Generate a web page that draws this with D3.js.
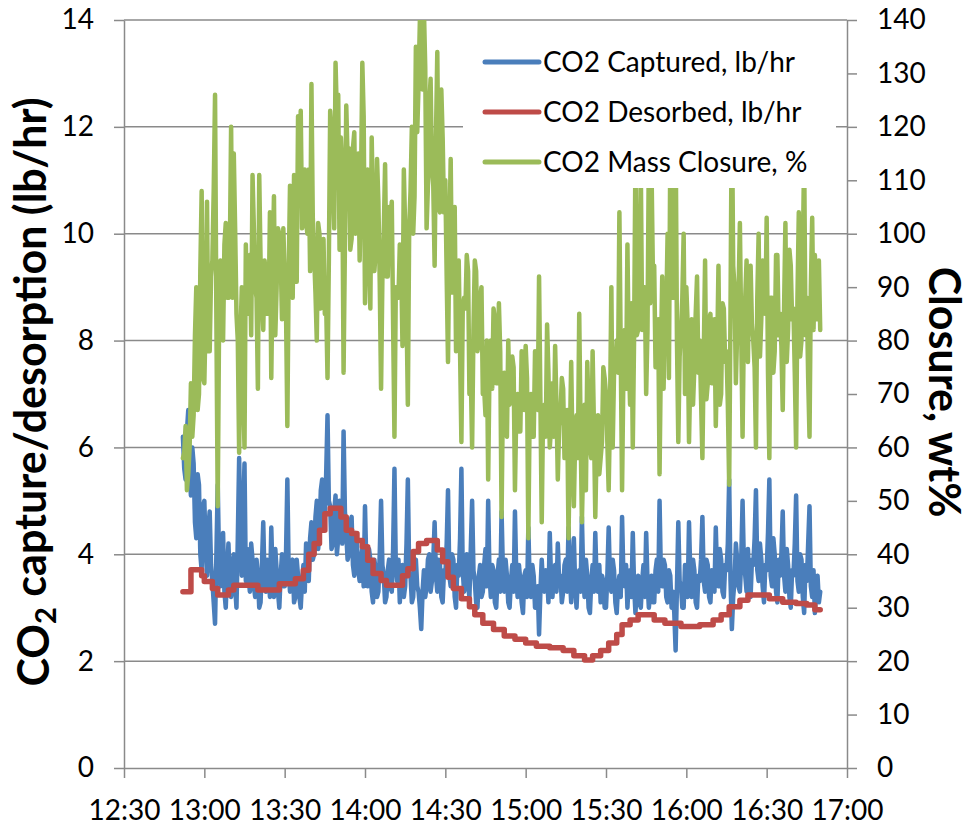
<!DOCTYPE html>
<html>
<head>
<meta charset="utf-8">
<script src="https://cdn.jsdelivr.net/npm/d3@7"></script>
<style>
  body { margin: 0; background: #fff; }
  svg { font-family: Lato, "Open Sans", sans-serif; display: block; }
</style>
</head>
<body>
<svg id="chart"></svg>
<script>
// series sampled every 30 seconds, starting at this time
const startTime = "12:52";
const stepSeconds = 30;

// CO2 captured, lb/hr (left axis)
const captured = [
  6.2, 5.6, 5.4, 6.3, 6.7, 5.5, 5.1, 6.0, 5.7, 4.6, 4.3, 5.5, 5.3, 4.0, 3.7, 4.9,
  5.0, 4.1, 3.6, 4.5, 4.8, 3.8, 3.5, 3.1, 2.7, 4.0, 5.3, 3.9, 3.4, 3.9, 4.4, 3.3, 3.0, 3.7, 4.2, 3.5,
  3.2, 3.8, 4.0, 3.4, 3.0, 4.3, 5.8, 4.2, 3.6, 4.8, 5.7, 3.5, 4.1, 3.6, 3.3, 4.2, 3.9, 3.4, 3.2, 3.9,
  3.6, 3.0, 3.1, 3.8, 4.6, 3.5, 3.3, 3.9, 3.8, 3.2, 4.5, 3.6, 3.2, 4.1, 3.7, 3.3, 3.0, 3.6, 4.0, 3.4,
  3.4, 4.0, 5.4, 3.7, 3.3, 3.6, 3.9, 3.1, 3.2, 3.9, 3.6, 3.2, 3.0, 3.5, 3.8, 3.3, 4.2, 3.7, 3.5, 4.3,
  4.6, 3.9, 4.0, 4.7, 5.0, 4.1, 4.4, 5.2, 5.4, 4.5, 4.7, 5.5, 6.6, 5.0, 4.9, 4.1, 4.2, 4.8, 5.1, 4.0,
  4.3, 5.0, 4.9, 4.2, 6.3, 4.8, 4.4, 3.9, 4.0, 4.6, 4.7, 3.8, 3.6, 4.4, 4.2, 3.7, 3.5, 3.9, 4.1, 3.4,
  4.9, 3.8, 3.4, 4.1, 3.9, 3.3, 3.1, 3.9, 3.7, 3.2, 3.3, 4.0, 5.0, 3.8, 3.6, 3.1, 3.2, 3.7, 3.9, 3.4,
  3.3, 4.1, 5.6, 3.8, 3.5, 3.9, 3.1, 3.6, 3.8, 3.2, 3.4, 4.2, 5.4, 3.7, 3.6, 3.1, 3.2, 3.8, 3.9, 3.4,
  3.3, 3.0, 2.6, 3.3, 3.7, 3.2, 3.4, 3.9, 4.0, 3.3, 3.5, 3.9, 4.6, 3.6, 3.3, 3.9, 3.8, 3.2, 3.1, 3.7,
  3.6, 4.2, 5.2, 3.6, 3.4, 4.0, 3.9, 3.2, 3.0, 3.8, 3.6, 4.3, 5.6, 3.7, 3.3, 3.7, 4.0, 3.4, 3.2, 4.1,
  5.0, 3.7, 3.5, 3.1, 3.0, 3.6, 3.8, 3.2, 3.3, 3.8, 4.1, 3.4, 5.0, 3.6, 3.2, 3.8, 3.7, 3.1, 3.0, 3.6,
  3.9, 3.3, 4.8, 3.7, 3.3, 3.9, 3.6, 3.1, 3.0, 3.5, 3.8, 3.3, 4.8, 3.6, 3.2, 3.8, 3.5, 3.1, 2.9, 3.6,
  3.7, 3.2, 4.5, 3.5, 3.2, 3.8, 3.6, 3.0, 3.1, 3.4, 2.5, 3.3, 3.9, 3.4, 3.3, 3.7, 3.6, 3.1, 4.4, 3.5,
  3.2, 3.6, 3.8, 3.3, 4.2, 3.5, 3.6, 3.1, 3.3, 3.8, 3.9, 3.3, 4.5, 3.6, 3.1, 3.7, 4.3, 3.4, 3.0, 3.6,
  3.7, 3.3, 4.7, 3.6, 3.2, 3.9, 3.6, 3.0, 2.9, 3.5, 3.8, 3.3, 4.4, 3.5, 3.3, 3.8, 3.1, 3.6, 3.5, 3.0,
  3.0, 3.6, 4.5, 3.5, 3.3, 3.9, 3.7, 3.1, 2.9, 3.4, 3.6, 3.2, 4.7, 3.6, 3.4, 3.8, 3.0, 3.5, 3.7, 3.2,
  4.4, 3.4, 2.9, 3.4, 3.6, 3.1, 3.0, 3.5, 3.8, 3.2, 4.4, 3.5, 3.0, 3.3, 3.6, 3.1, 3.1, 3.7, 3.9, 3.3,
  5.0, 3.6, 3.4, 3.9, 3.8, 3.2, 3.1, 3.7, 3.6, 3.0, 3.3, 2.9, 2.2, 3.4, 4.6, 3.5, 3.4, 3.0, 3.0, 3.8,
  3.6, 3.2, 4.6, 3.6, 3.2, 3.9, 3.7, 3.1, 3.0, 3.6, 3.5, 3.9, 4.7, 3.5, 3.3, 3.9, 3.8, 3.2, 3.1, 3.7,
  3.6, 3.3, 4.5, 3.6, 3.4, 4.1, 3.9, 3.3, 3.2, 3.8, 3.7, 4.2, 5.4, 3.5, 2.6, 3.2, 3.5, 4.2, 3.9, 3.4,
  3.3, 3.9, 5.0, 3.8, 3.6, 3.3, 4.1, 3.5, 3.2, 3.9, 3.8, 4.3, 5.2, 3.7, 3.5, 4.2, 3.9, 3.4, 3.1, 3.8,
  3.7, 4.4, 5.4, 3.6, 3.4, 4.3, 4.0, 3.3, 3.1, 3.9, 3.6, 4.0, 4.8, 3.6, 3.3, 4.1, 3.8, 3.2, 3.0, 3.7,
  3.6, 4.2, 5.1, 3.5, 3.3, 4.0, 3.9, 3.2, 2.9, 3.8, 3.5, 4.2, 4.9, 3.4, 3.2, 3.7, 2.9, 3.4, 3.6, 3.1,
  3.3
];

// CO2 mass closure, % (right axis)
const closure = [
  58, 59, 64, 52, 55, 60, 72, 62, 66, 81, 90, 67, 70, 93, 108, 73,
  72, 85, 106, 78, 78, 92, 95, 108, 126, 84, 49, 83, 95, 83, 80, 98, 102, 88, 88, 95,
  120, 88, 115, 101, 85, 80, 59, 81, 90, 71, 60, 98, 85, 95, 96, 81, 111, 101, 90, 88,
  71, 111, 95, 88, 82, 95, 92, 85, 85, 104, 73, 93, 107, 81, 90, 101, 100, 96, 84, 101,
  92, 86, 64, 93, 109, 96, 88, 111, 110, 91, 122, 111, 123, 101, 105, 112, 102, 100, 112, 93,
  128, 103, 96, 89, 80, 102, 100, 86, 95, 99, 85, 87, 73, 95, 123, 119, 110, 101, 132, 122,
  126, 97, 118, 112, 74, 98, 124, 114, 116, 97, 99, 116, 119, 100, 108, 115, 95, 109, 132, 122,
  87, 109, 112, 95, 86, 118, 104, 93, 97, 114, 106, 91, 71, 92, 100, 113, 92, 92, 105, 101,
  106, 83, 62, 90, 90, 88, 98, 95, 79, 112, 101, 86, 68, 101, 108, 120, 100, 107, 135, 119,
  128, 140, 150, 127, 142, 131, 101, 109, 124, 129, 112, 109, 94, 118, 134, 105, 104, 127, 118, 104,
  110, 92, 76, 99, 114, 89, 92, 105, 78, 88, 95, 78, 61, 86, 88, 86, 96, 93, 70, 74,
  60, 82, 95, 93, 78, 80, 88, 90, 70, 71, 66, 80, 54, 75, 80, 71, 86, 84, 72, 72,
  87, 78, 47, 70, 74, 63, 62, 80, 68, 71, 77, 75, 52, 67, 70, 63, 63, 78, 72, 67,
  79, 73, 43, 67, 70, 62, 62, 78, 73, 67, 92, 69, 46, 67, 68, 62, 83, 74, 60, 64,
  72, 62, 79, 68, 54, 64, 66, 73, 71, 58, 58, 67, 43, 61, 76, 59, 49, 62, 66, 58,
  85, 64, 46, 58, 68, 52, 76, 67, 60, 58, 78, 64, 47, 60, 66, 55, 58, 61, 75, 73,
  70, 61, 52, 67, 90, 60, 74, 75, 80, 74, 104, 78, 52, 74, 82, 71, 98, 77, 68, 87,
  60, 81, 115, 81, 82, 93, 112, 82, 90, 90, 70, 82, 115, 87, 112, 93, 94, 75, 78, 84,
  55, 77, 92, 71, 84, 85, 100, 73, 115, 90, 88, 93, 120, 80, 61, 77, 82, 88, 100, 70,
  90, 83, 61, 74, 84, 68, 75, 85, 92, 74, 80, 69, 58, 77, 95, 69, 72, 84, 85, 72,
  76, 84, 64, 77, 94, 68, 70, 87, 86, 76, 78, 68, 53, 86, 125, 94, 90, 72, 82, 89,
  102, 81, 62, 83, 88, 95, 76, 93, 94, 83, 80, 75, 60, 88, 100, 77, 84, 95, 92, 85,
  103, 74, 58, 88, 88, 74, 78, 96, 96, 81, 85, 79, 67, 86, 102, 76, 82, 97, 94, 84,
  86, 74, 60, 88, 104, 77, 80, 96, 115, 81, 88, 73, 62, 90, 103, 82, 96, 87, 84, 95,
  82
];

// CO2 desorbed, lb/hr (left axis) - stepped readings
const desorbedTimes = [
  "12:52", "12:55", "12:59", "13:00", "13:03", "13:05", "13:09", "13:11", "13:20", "13:28",
  "13:34", "13:37", "13:39", "13:41", "13:43", "13:45", "13:47", "13:51", "13:53", "13:55",
  "13:57", "13:59", "14:01", "14:03", "14:06", "14:08", "14:14", "14:16", "14:18", "14:20",
  "14:23", "14:27", "14:29", "14:31", "14:33", "14:36", "14:39", "14:41", "14:44", "14:48",
  "14:52", "14:56", "15:00", "15:04", "15:09", "15:14", "15:18", "15:22", "15:25", "15:28",
  "15:31", "15:34", "15:36", "15:39", "15:42", "15:48", "15:52", "15:58", "16:05", "16:10",
  "16:13", "16:16", "16:20", "16:23", "16:31", "16:36", "16:41", "16:45", "16:48", "16:50"
];
const desorbedValues = [
  3.30, 3.71, 3.60, 3.49, 3.36, 3.24, 3.33, 3.42, 3.33, 3.45,
  3.54, 3.70, 4.00, 4.20, 4.45, 4.76, 4.86, 4.70, 4.45, 4.39,
  4.26, 4.14, 3.89, 3.64, 3.51, 3.42, 3.60, 3.73, 4.05, 4.20,
  4.26, 4.08, 3.86, 3.57, 3.36, 3.17, 3.02, 2.87, 2.71, 2.59,
  2.47, 2.41, 2.34, 2.28, 2.25, 2.20, 2.10, 2.02, 2.10, 2.20,
  2.34, 2.50, 2.68, 2.77, 2.87, 2.77, 2.71, 2.65, 2.68, 2.77,
  2.87, 3.02, 3.14, 3.24, 3.17, 3.10, 3.08, 3.05, 2.96, 2.96
];

const xTicks = ["12:30", "13:00", "13:30", "14:00", "14:30", "15:00", "15:30", "16:00", "16:30", "17:00"];
const leftTicks = [0, 2, 4, 6, 8, 10, 12, 14];
const rightTicks = [0, 10, 20, 30, 40, 50, 60, 70, 80, 90, 100, 110, 120, 130, 140];

const seriesNames = ["CO2 Captured, lb/hr", "CO2 Desorbed, lb/hr", "CO2 Mass Closure, %"];
const seriesColors = ["#4a7ebb", "#be4b48", "#9bbb59"];

const width = 973, height = 825;
const plot = {left: 124, right: 847, top: 20, bottom: 768};
const gridColor = "#8a8a8a";

const parseTime = d3.timeParse("%H:%M");
const t0 = parseTime(startTime);

const capturedData = captured.map((v, i) => ({t: d3.timeSecond.offset(t0, i * stepSeconds), v: v}));
const closureData = closure.map((v, i) => ({t: d3.timeSecond.offset(t0, i * stepSeconds), v: v}));
const desorbedData = desorbedTimes.map((s, i) => ({t: parseTime(s), v: desorbedValues[i]}));

const svg = d3.select("#chart").attr("width", width).attr("height", height);

const x = d3.scaleTime()
  .domain([parseTime(xTicks[0]), parseTime(xTicks[xTicks.length - 1])])
  .range([plot.left, plot.right]);
const yLeft = d3.scaleLinear().domain([0, 14]).range([plot.bottom, plot.top]);
const yRight = d3.scaleLinear().domain([0, 140]).range([plot.bottom, plot.top]);

// gridlines
svg.append("g")
  .selectAll("line")
  .data(leftTicks.slice(1))
  .join("line")
  .attr("x1", plot.left).attr("x2", plot.right)
  .attr("y1", d => yLeft(d)).attr("y2", d => yLeft(d))
  .attr("stroke", gridColor)
  .attr("stroke-width", 1.5);

svg.append("clipPath").attr("id", "plotClip")
  .append("rect")
  .attr("x", plot.left).attr("y", plot.top)
  .attr("width", plot.right - plot.left).attr("height", plot.bottom - plot.top);

const lines = svg.append("g").attr("clip-path", "url(#plotClip)");

const lineLeft = d3.line().x(d => x(d.t)).y(d => yLeft(d.v));
const lineStep = d3.line().x(d => x(d.t)).y(d => yLeft(d.v)).curve(d3.curveStepAfter);
const lineRight = d3.line().x(d => x(d.t)).y(d => yRight(d.v));

lines.append("path").datum(capturedData)
  .attr("d", lineLeft)
  .attr("fill", "none").attr("stroke", seriesColors[0])
  .attr("stroke-width", 4.5).attr("stroke-linejoin", "round").attr("stroke-linecap", "round");

lines.append("path").datum(desorbedData)
  .attr("d", lineStep)
  .attr("fill", "none").attr("stroke", seriesColors[1])
  .attr("stroke-width", 5.5).attr("stroke-linejoin", "round").attr("stroke-linecap", "round");

lines.append("path").datum(closureData)
  .attr("d", lineRight)
  .attr("fill", "none").attr("stroke", seriesColors[2])
  .attr("stroke-width", 4.5).attr("stroke-linejoin", "round").attr("stroke-linecap", "round");

// legend (white box sits over the lines)
const legend = svg.append("g");
legend.append("rect")
  .attr("x", 463).attr("y", 24)
  .attr("width", 373).attr("height", 164)
  .attr("fill", "#fff");

const legendRows = legend.selectAll("g.row")
  .data(seriesNames)
  .join("g")
  .attr("class", "row")
  .attr("transform", (d, i) => `translate(485, ${62 + i * 50})`);

legendRows.append("line")
  .attr("x1", 0).attr("x2", 54)
  .attr("stroke", (d, i) => seriesColors[i])
  .attr("stroke-width", 5).attr("stroke-linecap", "round");

legendRows.append("text")
  .attr("x", 58).attr("dy", "0.36em")
  .style("font-size", "28px")
  .attr("fill", "#000")
  .text(d => d);

// axes
function styleAxis(g) {
  g.selectAll(".domain, .tick line").attr("stroke", gridColor).attr("stroke-width", 1.5);
  g.selectAll(".tick text").attr("fill", "#000").style("font-size", "28px").style("font-family", "Lato, sans-serif");
}

svg.append("g")
  .attr("transform", `translate(${plot.left},0)`)
  .call(d3.axisLeft(yLeft).tickValues(leftTicks).tickSize(10).tickSizeOuter(0).tickPadding(20))
  .call(styleAxis);

svg.append("g")
  .attr("transform", `translate(${plot.right},0)`)
  .call(d3.axisRight(yRight).tickValues(rightTicks).tickSize(10).tickSizeOuter(0).tickPadding(20))
  .call(styleAxis);

svg.append("g")
  .attr("transform", `translate(0,${plot.bottom})`)
  .call(d3.axisBottom(x).tickValues(xTicks.map(parseTime)).tickFormat(d3.timeFormat("%H:%M"))
    .tickSize(10).tickSizeOuter(0).tickPadding(22))
  .call(styleAxis);

// axis titles
const leftTitle = svg.append("text")
  .attr("transform", "translate(49, 392) rotate(-90)")
  .attr("text-anchor", "middle")
  .style("font-size", "43px")
  .style("font-weight", "bold");
leftTitle.append("tspan").text("CO");
leftTitle.append("tspan").attr("dy", "0.25em").style("font-size", "29px").text("2");
leftTitle.append("tspan").attr("dy", "-0.25em").text(" capture/desorption (lb/hr)");

svg.append("text")
  .attr("transform", "translate(929, 392) rotate(90)")
  .attr("text-anchor", "middle")
  .style("font-size", "43px")
  .style("font-weight", "bold")
  .text("Closure, wt%");
</script>
</body>
</html>
